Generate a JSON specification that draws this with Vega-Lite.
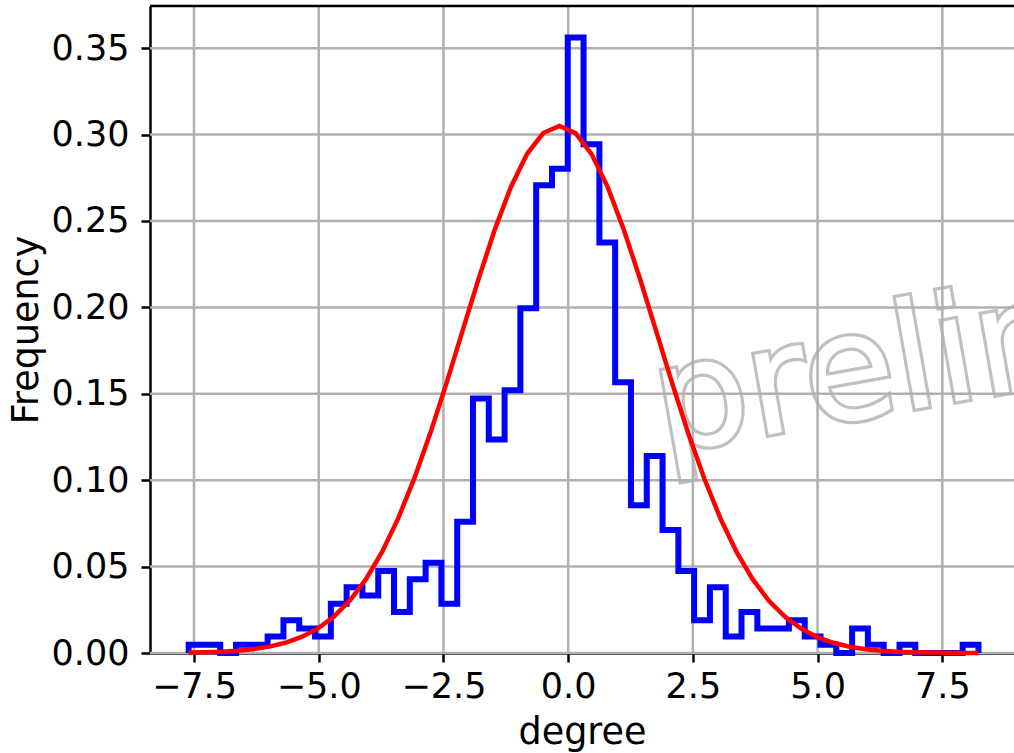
{
  "$schema": "https://vega.github.io/schema/vega-lite/v6.json",
  "width": 864,
  "height": 647,
  "autosize": {"type": "none"},
  "padding": {"left": 150, "top": 6, "right": 0, "bottom": 100},
  "background": "white",
  "config": {
    "view": {"stroke": null},
    "font": "DejaVu Sans",
    "axis": {
      "labelFont": "DejaVu Sans",
      "labelFontSize": 35,
      "labelColor": "black",
      "titleFont": "DejaVu Sans",
      "titleFontSize": 36.5,
      "titleFontWeight": "normal",
      "titleColor": "black",
      "domainColor": "black",
      "domainWidth": 2.5,
      "tickColor": "black",
      "tickWidth": 2.5,
      "tickSize": 9,
      "grid": false,
      "zindex": 1,
      "labelFlush": false,
      "labelOverlap": false
    },
    "axisX": {"labelPadding": 7, "titlePadding": 10},
    "axisY": {"labelPadding": 12, "titlePadding": 6}
  },
  "datasets": {
    "hist": [
      {"step": 0, "edge": -7.607, "density": 0},
      {"step": 1, "edge": -7.607, "density": 0.00475},
      {"step": 2, "edge": -7.290, "density": 0.00475},
      {"step": 3, "edge": -6.974, "density": 0},
      {"step": 4, "edge": -6.657, "density": 0.00475},
      {"step": 5, "edge": -6.340, "density": 0.00475},
      {"step": 6, "edge": -6.024, "density": 0.0095},
      {"step": 7, "edge": -5.707, "density": 0.019},
      {"step": 8, "edge": -5.391, "density": 0.01425},
      {"step": 9, "edge": -5.074, "density": 0.0095},
      {"step": 10, "edge": -4.757, "density": 0.02849},
      {"step": 11, "edge": -4.441, "density": 0.03799},
      {"step": 12, "edge": -4.124, "density": 0.03324},
      {"step": 13, "edge": -3.807, "density": 0.04749},
      {"step": 14, "edge": -3.491, "density": 0.02375},
      {"step": 15, "edge": -3.174, "density": 0.04274},
      {"step": 16, "edge": -2.857, "density": 0.05224},
      {"step": 17, "edge": -2.541, "density": 0.02849},
      {"step": 18, "edge": -2.224, "density": 0.07598},
      {"step": 19, "edge": -1.908, "density": 0.1472},
      {"step": 20, "edge": -1.591, "density": 0.1235},
      {"step": 21, "edge": -1.274, "density": 0.152},
      {"step": 22, "edge": -0.958, "density": 0.1995},
      {"step": 23, "edge": -0.641, "density": 0.2707},
      {"step": 24, "edge": -0.324, "density": 0.2802},
      {"step": 25, "edge": -0.008, "density": 0.3562},
      {"step": 26, "edge": 0.309, "density": 0.2944},
      {"step": 27, "edge": 0.626, "density": 0.2375},
      {"step": 28, "edge": 0.942, "density": 0.1567},
      {"step": 29, "edge": 1.259, "density": 0.08548},
      {"step": 30, "edge": 1.576, "density": 0.114},
      {"step": 31, "edge": 1.892, "density": 0.07124},
      {"step": 32, "edge": 2.209, "density": 0.04749},
      {"step": 33, "edge": 2.525, "density": 0.019},
      {"step": 34, "edge": 2.842, "density": 0.03799},
      {"step": 35, "edge": 3.159, "density": 0.0095},
      {"step": 36, "edge": 3.475, "density": 0.02375},
      {"step": 37, "edge": 3.792, "density": 0.01425},
      {"step": 38, "edge": 4.109, "density": 0.01425},
      {"step": 39, "edge": 4.425, "density": 0.019},
      {"step": 40, "edge": 4.742, "density": 0.0095},
      {"step": 41, "edge": 5.058, "density": 0.00475},
      {"step": 42, "edge": 5.375, "density": 0},
      {"step": 43, "edge": 5.692, "density": 0.01425},
      {"step": 44, "edge": 6.008, "density": 0.00475},
      {"step": 45, "edge": 6.325, "density": 0},
      {"step": 46, "edge": 6.642, "density": 0.00475},
      {"step": 47, "edge": 6.958, "density": 0},
      {"step": 48, "edge": 7.275, "density": 0},
      {"step": 49, "edge": 7.591, "density": 0},
      {"step": 50, "edge": 7.908, "density": 0.00475},
      {"step": 51, "edge": 8.225, "density": 0}
    ],
    "fit": [
      {"degree": -7.607, "pdf": 0.00022},
      {"degree": -7.284, "pdf": 0.00041},
      {"degree": -6.961, "pdf": 0.00074},
      {"degree": -6.638, "pdf": 0.0013},
      {"degree": -6.315, "pdf": 0.0022},
      {"degree": -5.992, "pdf": 0.0037},
      {"degree": -5.668, "pdf": 0.0059},
      {"degree": -5.345, "pdf": 0.0093},
      {"degree": -5.022, "pdf": 0.0141},
      {"degree": -4.699, "pdf": 0.021},
      {"degree": -4.376, "pdf": 0.0303},
      {"degree": -4.053, "pdf": 0.0427},
      {"degree": -3.730, "pdf": 0.0585},
      {"degree": -3.407, "pdf": 0.0779},
      {"degree": -3.084, "pdf": 0.101},
      {"degree": -2.761, "pdf": 0.1274},
      {"degree": -2.437, "pdf": 0.1563},
      {"degree": -2.114, "pdf": 0.1867},
      {"degree": -1.791, "pdf": 0.2169},
      {"degree": -1.468, "pdf": 0.2453},
      {"degree": -1.145, "pdf": 0.2698},
      {"degree": -0.822, "pdf": 0.2889},
      {"degree": -0.499, "pdf": 0.3009},
      {"degree": -0.176, "pdf": 0.305},
      {"degree": 0.147, "pdf": 0.3008},
      {"degree": 0.470, "pdf": 0.2887},
      {"degree": 0.793, "pdf": 0.2696},
      {"degree": 1.116, "pdf": 0.2449},
      {"degree": 1.440, "pdf": 0.2166},
      {"degree": 1.763, "pdf": 0.1864},
      {"degree": 2.086, "pdf": 0.156},
      {"degree": 2.409, "pdf": 0.127},
      {"degree": 2.732, "pdf": 0.1007},
      {"degree": 3.055, "pdf": 0.0777},
      {"degree": 3.378, "pdf": 0.0583},
      {"degree": 3.701, "pdf": 0.0426},
      {"degree": 4.024, "pdf": 0.0302},
      {"degree": 4.347, "pdf": 0.0209},
      {"degree": 4.670, "pdf": 0.0141},
      {"degree": 4.993, "pdf": 0.0092},
      {"degree": 5.317, "pdf": 0.0059},
      {"degree": 5.640, "pdf": 0.0036},
      {"degree": 5.963, "pdf": 0.0022},
      {"degree": 6.286, "pdf": 0.0013},
      {"degree": 6.609, "pdf": 0.00074},
      {"degree": 6.932, "pdf": 0.00041},
      {"degree": 7.255, "pdf": 0.00022},
      {"degree": 7.578, "pdf": 0.00012},
      {"degree": 7.901, "pdf": 0.00006},
      {"degree": 8.225, "pdf": 0.00003}
    ],
    "xticks": [{"tick": -7.5}, {"tick": -5}, {"tick": -2.5}, {"tick": 0}, {"tick": 2.5}, {"tick": 5}, {"tick": 7.5}],
    "yticks": [{"tick": 0}, {"tick": 0.05}, {"tick": 0.1}, {"tick": 0.15}, {"tick": 0.2}, {"tick": 0.25}, {"tick": 0.3}, {"tick": 0.35}],
    "stamp": [{"label": "preliminary"}]
  },
  "layer": [
    {
      "data": {"name": "stamp"},
      "mark": {"type": "text", "font": "DejaVu Sans", "fontSize": 148, "align": "left", "baseline": "alphabetic", "angle": -10, "fill": "#c0c0c0", "stroke": "#c0c0c0", "strokeWidth": 6.5, "strokeJoin": "miter"},
      "encoding": {
        "x": {"datum": 1.9, "type": "quantitative", "scale": {"domain": [-8.382, 8.937], "nice": false, "zero": false},
              "axis": {"values": [-7.5, -5, -2.5, 0, 2.5, 5, 7.5], "format": ".1f", "title": "degree"}},
        "y": {"datum": 0.1157, "type": "quantitative", "scale": {"domain": [0, 0.3744], "nice": false, "zero": false},
              "axis": {"values": [0, 0.05, 0.1, 0.15, 0.2, 0.25, 0.3, 0.35], "format": ".2f", "title": "Frequency"}},
        "text": {"field": "label", "type": "nominal"}
      }
    },
    {
      "data": {"name": "stamp"},
      "mark": {"type": "text", "font": "DejaVu Sans", "fontSize": 148, "align": "left", "baseline": "alphabetic", "angle": -10, "fill": "white"},
      "encoding": {
        "x": {"datum": 1.9, "type": "quantitative", "scale": {"domain": [-8.382, 8.937], "nice": false, "zero": false},
              "axis": {"values": [-7.5, -5, -2.5, 0, 2.5, 5, 7.5], "format": ".1f", "title": "degree"}},
        "y": {"datum": 0.1157, "type": "quantitative", "scale": {"domain": [0, 0.3744], "nice": false, "zero": false},
              "axis": {"values": [0, 0.05, 0.1, 0.15, 0.2, 0.25, 0.3, 0.35], "format": ".2f", "title": "Frequency"}},
        "text": {"field": "label", "type": "nominal"}
      }
    },
    {
      "data": {"name": "xticks"},
      "mark": {"type": "rule", "color": "#b0b0b0", "strokeWidth": 2.5},
      "encoding": {
        "x": {"field": "tick", "type": "quantitative", "scale": {"domain": [-8.382, 8.937], "nice": false, "zero": false},
              "axis": {"values": [-7.5, -5, -2.5, 0, 2.5, 5, 7.5], "format": ".1f", "title": "degree"}}
      }
    },
    {
      "data": {"name": "yticks"},
      "mark": {"type": "rule", "color": "#b0b0b0", "strokeWidth": 2.5},
      "encoding": {
        "y": {"field": "tick", "type": "quantitative", "scale": {"domain": [0, 0.3744], "nice": false, "zero": false},
              "axis": {"values": [0, 0.05, 0.1, 0.15, 0.2, 0.25, 0.3, 0.35], "format": ".2f", "title": "Frequency"}}
      }
    },
    {
      "data": {"name": "hist"},
      "mark": {"type": "line", "interpolate": "step-after", "color": "#0000ff", "strokeWidth": 6, "strokeJoin": "miter"},
      "encoding": {
        "x": {"field": "edge", "type": "quantitative", "scale": {"domain": [-8.382, 8.937], "nice": false, "zero": false},
              "axis": {"values": [-7.5, -5, -2.5, 0, 2.5, 5, 7.5], "format": ".1f", "title": "degree"}},
        "y": {"field": "density", "type": "quantitative", "scale": {"domain": [0, 0.3744], "nice": false, "zero": false},
              "axis": {"values": [0, 0.05, 0.1, 0.15, 0.2, 0.25, 0.3, 0.35], "format": ".2f", "title": "Frequency"}},
        "order": {"field": "step", "type": "quantitative"}
      }
    },
    {
      "data": {"name": "fit"},
      "mark": {"type": "line", "color": "#ff0000", "strokeWidth": 4.5},
      "encoding": {
        "x": {"field": "degree", "type": "quantitative", "scale": {"domain": [-8.382, 8.937], "nice": false, "zero": false},
              "axis": {"values": [-7.5, -5, -2.5, 0, 2.5, 5, 7.5], "format": ".1f", "title": "degree"}},
        "y": {"field": "pdf", "type": "quantitative", "scale": {"domain": [0, 0.3744], "nice": false, "zero": false},
              "axis": {"values": [0, 0.05, 0.1, 0.15, 0.2, 0.25, 0.3, 0.35], "format": ".2f", "title": "Frequency"}}
      }
    },
    {
      "data": {"values": [{}]},
      "mark": {"type": "rule", "color": "black", "strokeWidth": 2.5},
      "encoding": {
        "y": {"datum": 0.3744, "type": "quantitative", "scale": {"domain": [0, 0.3744], "nice": false, "zero": false},
              "axis": {"values": [0, 0.05, 0.1, 0.15, 0.2, 0.25, 0.3, 0.35], "format": ".2f", "title": "Frequency"}}
      }
    }
  ]
}
